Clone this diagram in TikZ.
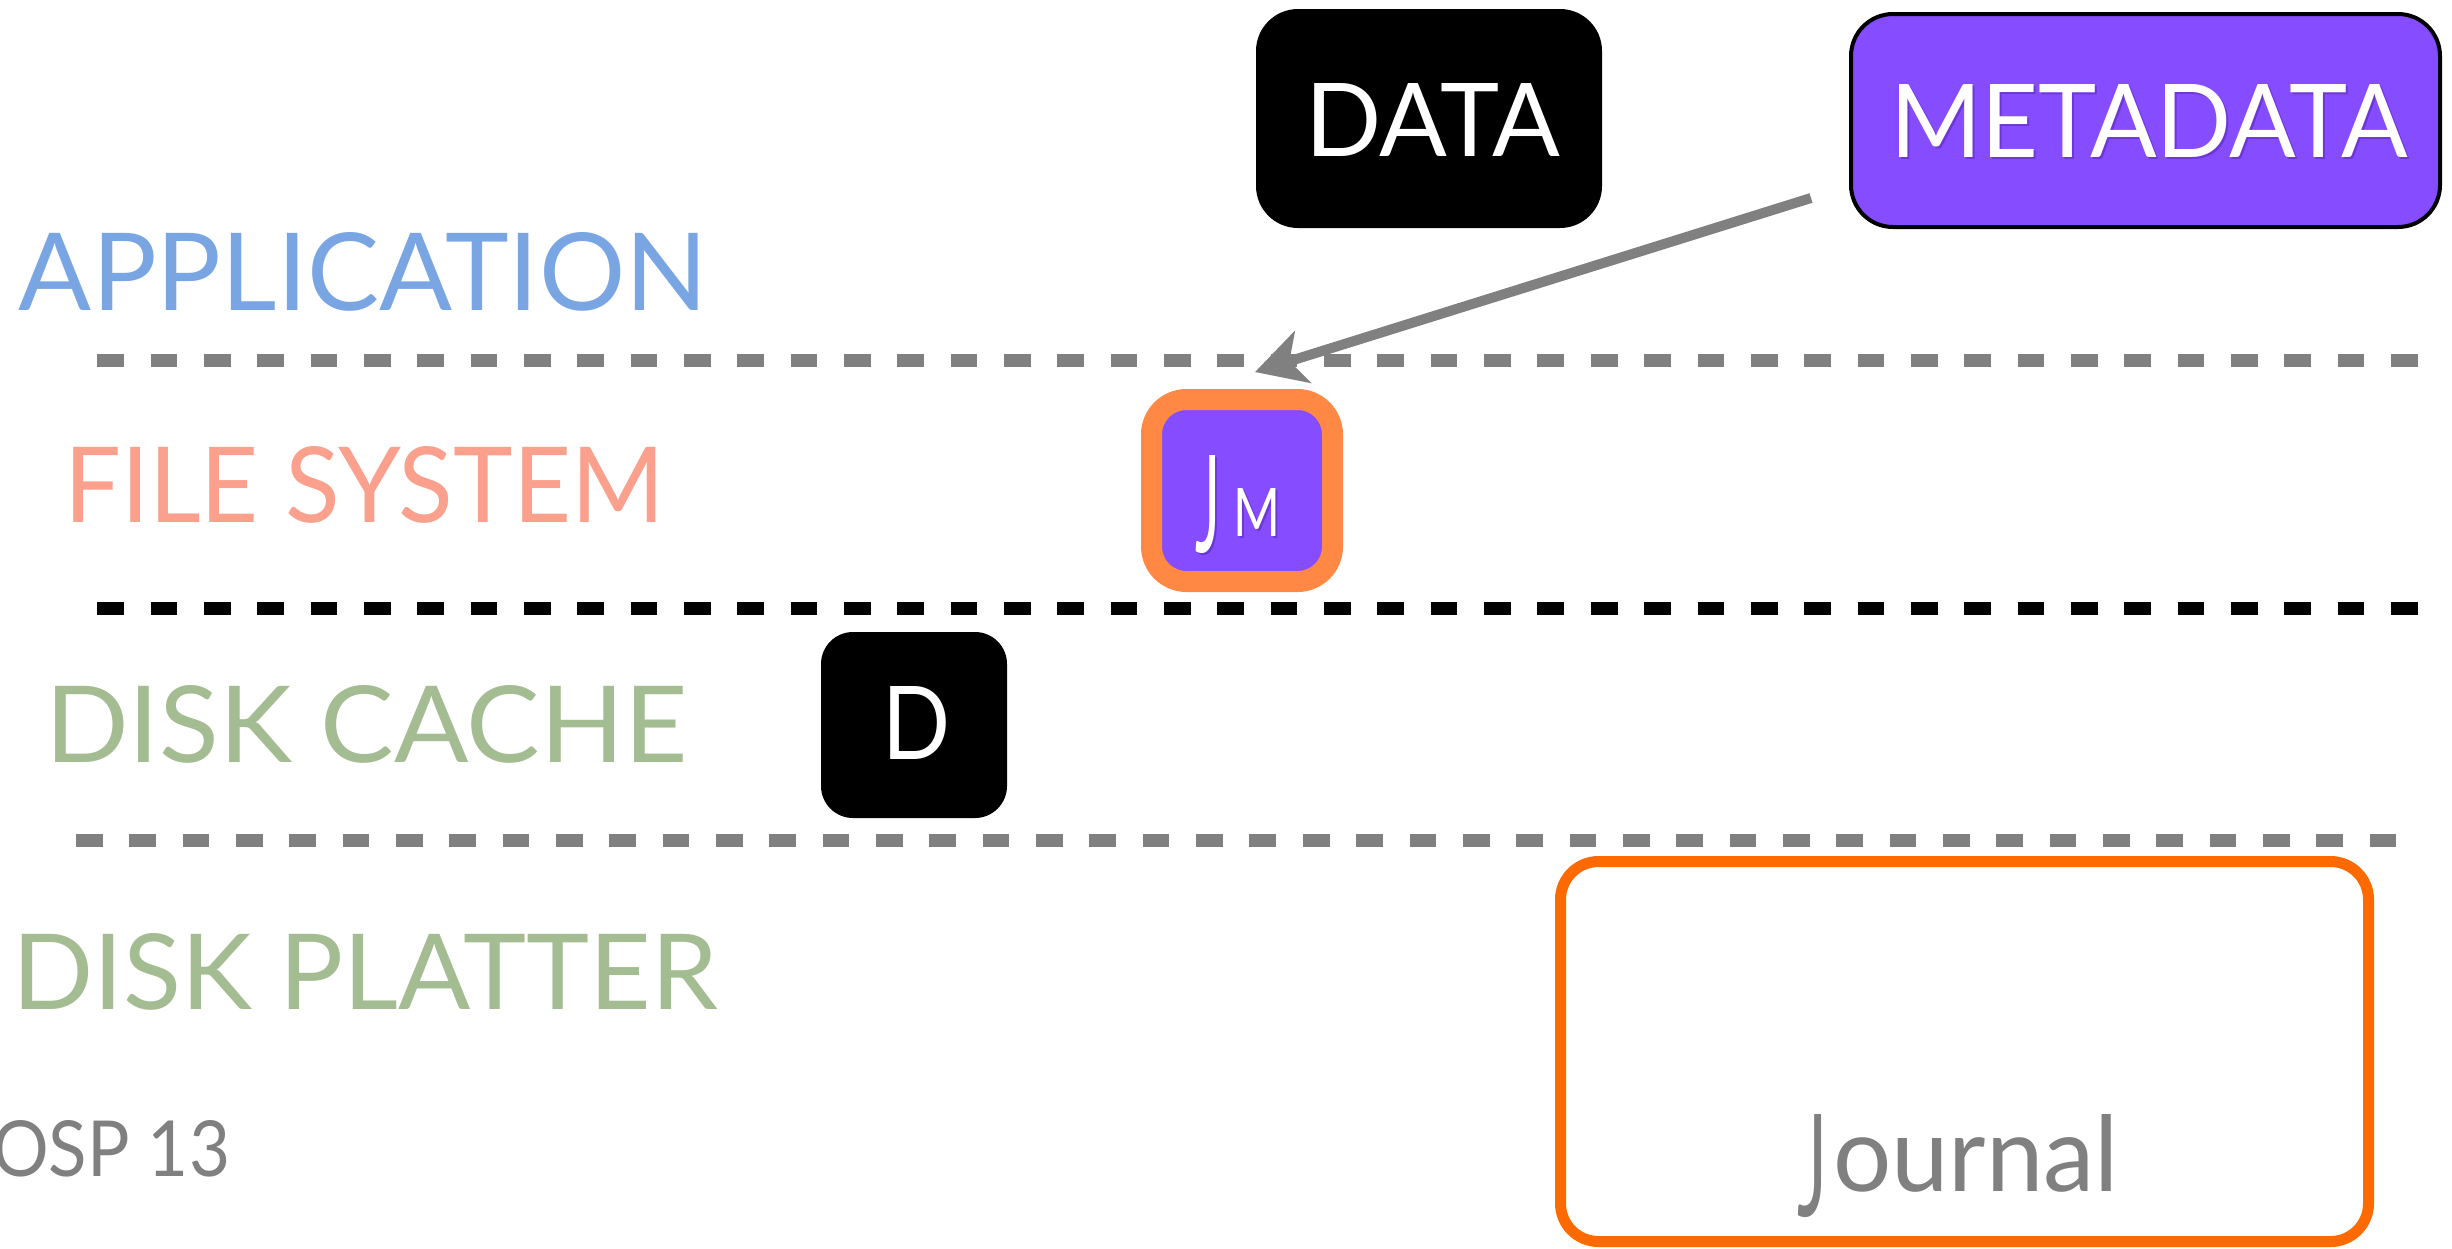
\documentclass[tikz,border=0pt]{standalone}
\usepackage{fontspec}
\setmainfont{Lato}
\usepackage{graphicx}
\usetikzlibrary{arrows.meta}
\definecolor{appblue}{RGB}{122,165,227}
\definecolor{fssalmon}{RGB}{250,160,140}
\definecolor{diskgreen}{RGB}{163,188,145}
\definecolor{mpurple}{RGB}{134,76,255}
\definecolor{jorange}{RGB}{255,136,68}
\definecolor{journorange}{RGB}{255,106,0}
\definecolor{lgray}{RGB}{128,128,128}
\definecolor{shadowpurple}{RGB}{80,30,170}
\newcommand\fitbox[3]{\resizebox{#1pt}{#2pt}{#3}}
\tikzset{
  lbl/.style={anchor=base west, inner sep=0pt, outer sep=0pt},
  layerline/.style={line width=13pt, dash pattern=on 26.67pt off 26.67pt, line cap=butt},
}
\begin{document}
\begin{tikzpicture}[x=1pt,y=-1pt]
\useasboundingbox (0,0) rectangle (2452,1248);
% layer labels
\node[lbl, text=appblue] (app) at (19,310) {\fitbox{688}{78}{APPLICATION}};
\node[lbl, text=fssalmon] (fs) at (64,522) {\fitbox{600}{76}{FILE SYSTEM}};
\node[lbl, text=diskgreen] (dc) at (45,762) {\fitbox{642}{77}{DISK CACHE}};
\node[lbl, text=diskgreen] (dp) at (12,1009) {\fitbox{706}{76}{DISK PLATTER}};
\node[lbl, text=lgray] (osp) at (-8,1176) {\fitbox{238}{56}{OSP 13}};
% separators
\coordinate (l1a) at (97.3,360.7); \coordinate (l1b) at (2419,360.7);
\coordinate (l2a) at (97.3,608.7); \coordinate (l2b) at (2419,608.7);
\coordinate (l3a) at (76,840.7);   \coordinate (l3b) at (2397.3,840.7);
\draw[layerline, lgray] (l1a) -- (l1b);
\draw[layerline, black] (l2a) -- (l2b);
\draw[layerline, lgray] (l3a) -- (l3b);
% DATA box
\fill[black, rounded corners=42pt] (1256,9) rectangle (1602,228);
\node[lbl, text=white] (data) at (1305,156) {\fitbox{255}{73}{DATA}};
% METADATA box
\filldraw[fill=mpurple, draw=black, line width=4pt, rounded corners=42pt] (1851,14) rectangle (2440,227);
\node[lbl, text=shadowpurple, opacity=0.45] at (1892,159) {\fitbox{517}{73}{METADATA}};
\node[lbl, text=white] (meta) at (1890,157) {\fitbox{517}{73}{METADATA}};
% Jm box
\filldraw[fill=mpurple, draw=jorange, line width=21pt, rounded corners=35pt] (1151.5,399.5) rectangle (1332.5,581.5);
\node[lbl, text=shadowpurple, opacity=0.45] at (1197,554) {\fitbox{25}{97}{J}};
\node[lbl, text=shadowpurple, opacity=0.45] at (1235,538) {\fitbox{47}{48}{M}};
\node[lbl, text=white] (jm) at (1195,552) {\fitbox{25}{97}{J}};
\node[lbl, text=white] (jmm) at (1233,536) {\fitbox{47}{48}{M}};
% D box
\fill[black, rounded corners=32pt] (821,632) rectangle (1007,818);
\node[lbl, text=white] (d) at (882,759) {\fitbox{68}{73}{D}};
% Journal box
\draw[journorange, line width=11pt, rounded corners=38pt] (1560.5,861.5) rectangle (2368.5,1241.5);
\node[lbl, text=lgray] (journalj) at (1797,1216) {\fitbox{30}{102}{J}};
\node[lbl, text=lgray] (journal) at (1833,1191) {\fitbox{286}{77}{ournal}};
% arrow
\coordinate (mstart) at (1811,198);
\coordinate (mend) at (1255,372);
\draw[lgray, line width=10pt, -{Stealth[length=50pt, width=54pt, inset=14pt]}] (mstart) -- (mend);
\end{tikzpicture}
\end{document}
